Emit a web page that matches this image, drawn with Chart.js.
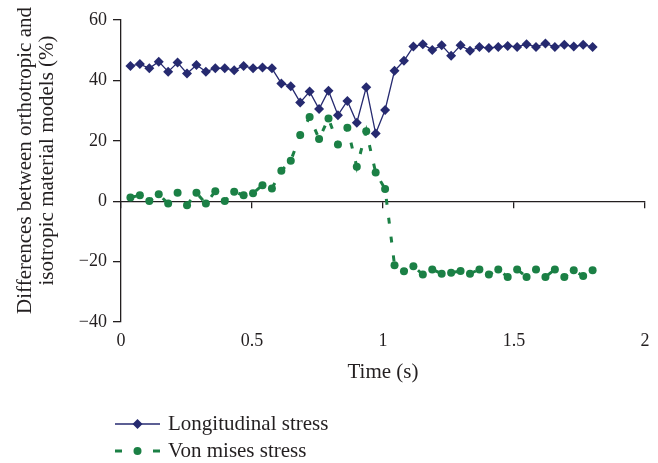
<!DOCTYPE html>
<html>
<head>
<meta charset="utf-8">
<script src="https://cdn.jsdelivr.net/npm/chart.js@4.4.0/dist/chart.umd.min.js"></script>
<style>
  html, body { margin: 0; padding: 0; background: #fff; }
  #wrap { position: relative; width: 658px; height: 463px; }
  #legend {
    position: absolute; left: 115px; top: 410px;
    font-family: "Liberation Serif", serif; font-size: 21px; color: #231f20;
  }
  .item { display: flex; align-items: center; height: 27px; }
  .item svg { margin-right: 8px; }
</style>
</head>
<body>
<div id="wrap">
  <canvas id="myChart"></canvas>
  <div id="legend"></div>
</div>
<script>
// time (s)
const timeS = [
  0.036, 0.072, 0.108, 0.144, 0.18, 0.216, 0.252, 0.288, 0.324, 0.36,
  0.396, 0.432, 0.468, 0.504, 0.54, 0.576, 0.612, 0.648, 0.684, 0.72,
  0.756, 0.792, 0.828, 0.864, 0.9, 0.936, 0.972, 1.008, 1.044, 1.08,
  1.116, 1.152, 1.188, 1.224, 1.26, 1.296, 1.332, 1.368, 1.404, 1.44,
  1.476, 1.512, 1.548, 1.584, 1.62, 1.656, 1.692, 1.728, 1.764, 1.8,
];

const longitudinalStress = [
  44.8, 45.4, 44.0, 46.2, 42.9, 45.9, 42.3, 45.1, 42.9, 44.0,
  44.0, 43.4, 44.8, 44.0, 44.3, 44.0, 39.0, 38.1, 32.7, 36.3,
  30.5, 36.6, 28.5, 33.2, 26.0, 37.7, 22.4, 30.2, 43.2, 46.5,
  51.2, 52.0, 50.1, 51.6, 48.2, 51.6, 49.8, 51.1, 50.7, 51.1,
  51.4, 51.1, 52.0, 51.1, 52.2, 51.1, 51.8, 51.2, 51.8, 51.1,
];

const vonMisesStress = [
  1.2, 2.0, 0.1, 2.3, -0.8, 2.8, -1.3, 2.8, -0.8, 3.3,
  0.1, 3.1, 2.0, 2.6, 5.3, 4.2, 10.1, 13.4, 21.9, 27.9,
  20.6, 27.4, 18.8, 24.3, 11.4, 23.2, 9.5, 4.0, -21.2, -23.2,
  -21.5, -24.3, -22.6, -24.0, -23.7, -23.1, -24.0, -22.6, -24.3, -22.6,
  -25.1, -22.6, -25.1, -22.6, -25.1, -22.6, -25.1, -22.9, -24.8, -22.9,
];

const xTicks = [0, 0.5, 1, 1.5, 2];
const yTicks = [-40, -20, 0, 20, 40, 60];

const navy = "#262a70";
const green = "#1b8045";
const ink = "#231f20";
const serif = "'Liberation Serif', 'Times New Roman', serif";

const toPoints = (values) => values.map((v, i) => ({ x: timeS[i], y: v }));

const data = {
  datasets: [
    {
      label: "Longitudinal stress",
      data: toPoints(longitudinalStress),
      borderColor: navy,
      backgroundColor: navy,
      borderWidth: 1.3,
      pointStyle: "rectRot",
      pointRadius: 5,
      pointBorderWidth: 0,
      tension: 0,
    },
    {
      label: "Von mises stress",
      data: toPoints(vonMisesStress),
      borderColor: green,
      backgroundColor: green,
      borderWidth: 3,
      borderDash: [6, 13],
      pointStyle: "circle",
      pointRadius: 4,
      pointBorderWidth: 0,
      tension: 0,
    },
  ],
};

const config = {
  type: "line",
  data: data,
  options: {
    responsive: true,
    maintainAspectRatio: false,
    animation: false,
    layout: { padding: { left: 0, top: 20, right: 13, bottom: 78 } },
    plugins: {
      legend: { display: false },
      tooltip: { enabled: false },
    },
    scales: {
      // axis line crossing at y = 0, tick marks only
      x: {
        type: "linear",
        min: 0,
        max: 2,
        position: { y: 0 },
        afterBuildTicks: (scale) => {
          scale.ticks = xTicks.map((v) => ({ value: v }));
        },
        ticks: { display: false },
        grid: {
          display: true,
          drawOnChartArea: false,
          drawTicks: true,
          tickLength: 6,
          color: ink,
          lineWidth: 1.3,
        },
        border: { display: true, color: ink, width: 1.3 },
      },
      // labels and title at the bottom
      xb: {
        type: "linear",
        min: 0,
        max: 2,
        position: "bottom",
        afterBuildTicks: (scale) => {
          scale.ticks = xTicks.map((v) => ({ value: v }));
        },
        afterFit: (scale) => {
          scale.height = 63;
        },
        ticks: {
          padding: 8,
          color: ink,
          font: { family: serif, size: 18 },
          callback: (v) => String(v),
        },
        grid: { display: false, drawTicks: false },
        border: { display: false },
        title: {
          display: true,
          text: "Time (s)",
          color: ink,
          font: { family: serif, size: 21, lineHeight: 1.2 },
          padding: { top: 0, bottom: 0 },
        },
      },
      y: {
        type: "linear",
        min: -40,
        max: 60,
        afterBuildTicks: (scale) => {
          scale.ticks = yTicks.map((v) => ({ value: v }));
        },
        afterFit: (scale) => {
          scale.width = 121;
        },
        ticks: {
          padding: 6,
          color: ink,
          font: { family: serif, size: 18 },
          callback: (v) => (v < 0 ? "\u2212" + Math.abs(v) : String(v)),
        },
        grid: {
          display: true,
          drawOnChartArea: false,
          drawTicks: true,
          tickLength: 8,
          color: ink,
          lineWidth: 1.3,
        },
        border: { display: true, color: ink, width: 1.3 },
        title: {
          display: true,
          // leading spaces nudge the centred title up, as in the original
          text: [
            "\u2002\u2002Differences between orthotropic and",
            "\u2002\u2002isotropic material models (%)",
          ],
          color: ink,
          font: { family: serif, size: 21, lineHeight: 1.05 },
          padding: { top: 14, bottom: 0 },
        },
      },
    },
  },
};

const myChart = new Chart(document.getElementById("myChart"), config);

// legend below the chart, one item per row
const legendSvg = {
  0: `<svg width="45" height="14"><line x1="0" y1="7" x2="45" y2="7" stroke="${navy}" stroke-width="1.3"/>
      <polygon points="22.5,2 27.5,7 22.5,12 17.5,7" fill="${navy}"/></svg>`,
  1: `<svg width="45" height="14"><line x1="0" y1="7" x2="45" y2="7" stroke="${green}" stroke-width="3" stroke-dasharray="7 12"/>
      <circle cx="22.5" cy="7" r="4" fill="${green}"/></svg>`,
};
document.querySelector("#legend").innerHTML = myChart.data.datasets
  .map((ds, i) => `<div class="item">${legendSvg[i]}<span>${ds.label}</span></div>`)
  .join("");
</script>
</body>
</html>
